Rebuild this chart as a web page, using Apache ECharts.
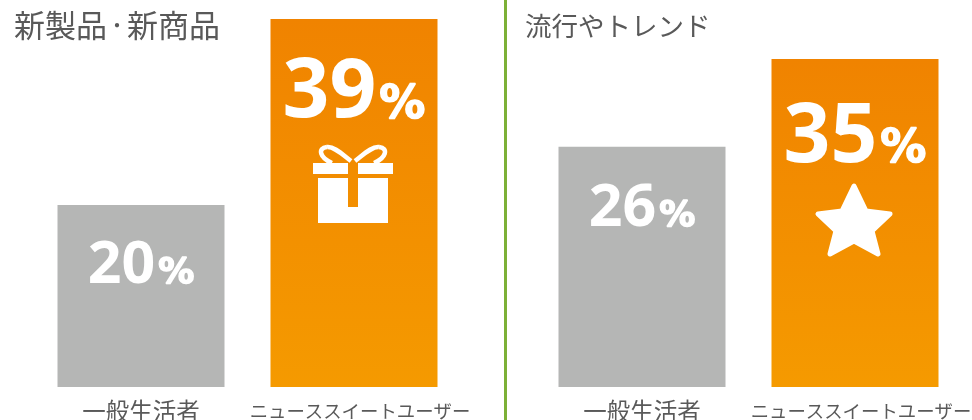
<!DOCTYPE html>
<html><head><meta charset="utf-8">
<style>html,body{margin:0;padding:0;background:#fff}#c{width:972px;height:420px}</style>
<script src="https://cdn.jsdelivr.net/npm/echarts@6/dist/echarts.min.js"></script>
</head><body><div id="c"></div>
<script>
const categories = ['一般生活者', 'ニューススイートユーザー'];
const generalValues = [20, 26];
const userValues = [39, 35];
// The reference's bars are not drawn to one common scale: each bar has its own axis top.
const generalAxisMax = [42.5, 41.9];
const userAxisMax = [41.0, 41.3];

const JP = '"Noto Sans CJK JP"';
const grad = {type:'linear',x:0,y:0,x2:0,y2:1,colorStops:[{offset:0,color:'#f08300'},{offset:1,color:'#f59a00'}]};
const lefts = [34.5, 535.5];

function label(big, small, dist){
  return {show:true, position:'insideTop', distance:dist, color:'#fff',
    formatter:p=>`{n|${p.value}}{p|%}`,
    rich:{
      n:{fontFamily:'"Noto Sans"',fontWeight:'bold',fontSize:big,color:'#fff',lineHeight:big*1.1,verticalAlign:'bottom'},
      p:{fontFamily:'"DejaVu Sans"',fontWeight:'bold',fontSize:small,color:'#fff',textBorderColor:'#fff',textBorderWidth:1.6,lineHeight:small*1.1,verticalAlign:'bottom',padding:[0,0,big*0.075,3]}
    }};
}
const generalDist=[26,27], userDist=[26,30];
const grids=[],xAxes=[],yAxes=[],series=[];
lefts.forEach((l,i)=>{
  grids.push({left:l,width:426,top:0,height:387,outerBoundsMode:'none'});
  xAxes.push({type:'category',gridIndex:i,data:categories,
    axisLine:{show:false},axisTick:{show:false},
    axisLabel:{interval:0,margin:11,hideOverlap:false,
      formatter:(v,k)=>k===0?`{a|${v}}`:`{b|${v}}`,
      rich:{
        a:{fontFamily:JP,fontSize:23.5,color:'#595959',lineHeight:26},
        b:{fontFamily:JP,fontSize:18.4,color:'#595959',lineHeight:26,padding:[0,0,0,12]}
      }}});
  yAxes.push({type:'value',gridIndex:i,min:0,max:generalAxisMax[i],show:false,splitLine:{show:false}});
  yAxes.push({type:'value',gridIndex:i,min:0,max:userAxisMax[i],show:false,splitLine:{show:false}});
  series.push({type:'bar',xAxisIndex:i,yAxisIndex:i*2,barWidth:167,barGap:'-100%',silent:true,
    data:[generalValues[i],null],itemStyle:{color:'#b5b6b5'},label:label(59,36,generalDist[i])});
  series.push({type:'bar',xAxisIndex:i,yAxisIndex:i*2+1,barWidth:167,barGap:'-100%',silent:true,
    data:[null,userValues[i]],itemStyle:{color:grad},label:label(82,46,userDist[i])});
});
const white={fill:'#fff'};
const bow=(a,b,c,d)=>({type:'bezierCurve',z:100,shape:{x1:a[0],y1:a[1],cpx1:b[0],cpy1:b[1],cpx2:c[0],cpy2:c[1],x2:d[0],y2:d[1]},style:{fill:null,stroke:'#fff',lineWidth:4.5}});
const graphic=[
  {type:'rect',z:100,shape:{x:504,y:0,width:3,height:420},style:{fill:'#7cb037'}},
  {type:'text',z:100,x:14,y:10,style:{text:'{k|新製品}{d|・}{k|新商品}',rich:{
    k:{fontFamily:JP,fontSize:31,fill:'#595959'},
    d:{fontFamily:JP,fontSize:20,fill:'#595959'}}}},
  {type:'text',z:100,x:525,y:13,style:{text:'流行やトレンド',font:`26.5px ${JP}`,fill:'#595959'}},
  // gift icon
  {type:'rect',z:100,shape:{x:313,y:163,width:35,height:11},style:white},
  {type:'rect',z:100,shape:{x:358,y:163,width:35,height:11},style:white},
  {type:'polygon',z:100,shape:{points:[[318,178],[348,178],[348,207],[358,207],[358,178],[388,178],[388,223],[318,223]]},style:white},
  bow([351,161],[343,155],[334,146],[327,147]),
  bow([327,147],[317,148],[320,158],[332,163]),
  bow([355,161],[363,155],[372,146],[379,147]),
  bow([379,147],[389,148],[386,158],[374,163]),
  // star icon
  {type:'polygon',z:100,shape:{points:[[854,186],[866,211],[890,214],[872,231],[878,254],[854,241],[830,254],[836,231],[818,214],[842,211]]},style:{fill:'#fff',stroke:'#fff',lineWidth:5,lineJoin:'round'}}
];
const chart=echarts.init(document.getElementById('c'),null,{renderer:'canvas'});
chart.setOption({animation:false,grid:grids,xAxis:xAxes,yAxis:yAxes,series,graphic});
</script></body></html>
